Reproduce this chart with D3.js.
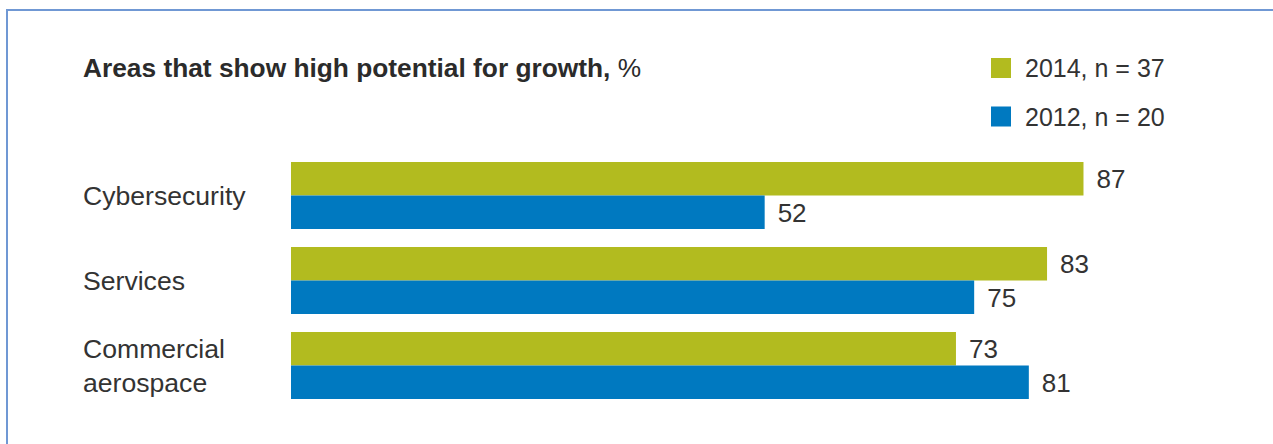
<!DOCTYPE html>
<html>
<head>
<meta charset="utf-8">
<script src="https://cdn.jsdelivr.net/npm/d3@7"></script>
<style>
  body { margin: 0; background: #fff; }
  svg { display: block; font-family: "Liberation Sans", Arial, Helvetica, sans-serif; }
</style>
</head>
<body>
<div id="vis"></div>
<script>
var width = 1273,
    height = 444;

// data
var categories = ["Cybersecurity", "Services", "Commercial aerospace"];
var series = ["2014", "2012"];
var seriesLabels = ["2014, n = 37", "2012, n = 20"];
var values2014 = [87, 83, 73];
var values2012 = [52, 75, 81];
var colors = ["#b2bb1f", "#0079c0"];

var rows = categories.map(function(c, i) {
  return {cat: c, vals: [values2014[i], values2012[i]]};
});

var svg = d3.select("#vis").append("svg")
    .attr("width", width)
    .attr("height", height);

// frame
svg.append("rect")
    .attr("x", 7)
    .attr("y", 10)
    .attr("width", width + 20)
    .attr("height", height + 20)
    .attr("fill", "none")
    .attr("stroke", "#7098d4")
    .attr("stroke-width", 2);

var x = d3.scaleLinear()
    .domain([0, 100])
    .range([291, 1201.9]);

var y = d3.scaleBand()
    .domain(categories)
    .range([162, 399])
    .paddingInner(18 / 85);

var ySub = d3.scaleBand()
    .domain(series)
    .range([0, y.bandwidth()]);

// title
var title = svg.append("text")
    .attr("x", 83)
    .attr("y", 77)
    .style("font-size", "26.3px")
    .style("fill", "#2b2b2b");
title.append("tspan").style("font-weight", "bold").text("Areas that show high potential for growth,");
title.append("tspan").text(" %");

// legend
var legend = svg.selectAll(".legend")
    .data(series)
    .enter().append("g")
    .attr("class", "legend")
    .attr("transform", function(d, i) { return "translate(991," + (58 + i * 48.5) + ")" });

legend.append("rect")
    .attr("width", 20)
    .attr("height", 20)
    .attr("fill", function(d, i) { return colors[i] });

legend.append("text")
    .attr("x", 34)
    .attr("y", 19)
    .style("font-size", "25px")
    .style("fill", "#333")
    .text(function(d, i) { return seriesLabels[i] });

// groups
var group = svg.selectAll(".group")
    .data(rows)
    .enter().append("g")
    .attr("class", "group")
    .attr("transform", function(d) { return "translate(0," + y(d.cat) + ")" });

group.selectAll("rect")
    .data(function(d) { return d.vals })
    .enter().append("rect")
    .attr("x", x(0))
    .attr("y", function(d, i) { return ySub(series[i]) })
    .attr("width", function(d) { return x(d) - x(0) })
    .attr("height", ySub.bandwidth())
    .attr("fill", function(d, i) { return colors[i] });

group.selectAll(".val")
    .data(function(d) { return d.vals })
    .enter().append("text")
    .attr("class", "val")
    .attr("x", function(d) { return x(d) + 13 })
    .attr("y", function(d, i) { return ySub(series[i]) + ySub.bandwidth() / 2 + 9.5 })
    .style("font-size", "26px")
    .style("fill", "#333")
    .text(function(d) { return d });

// category labels (wrap long one)
group.append("text")
    .style("font-size", "26.6px")
    .style("fill", "#333")
    .each(function(d) {
      var lines = d.cat == "Commercial aerospace" ? ["Commercial", "aerospace"] : [d.cat];
      var lh = 34;
      var first = y.bandwidth() / 2 + 9.5 - (lines.length - 1) * lh / 2;
      var t = d3.select(this);
      lines.forEach(function(l, k) {
        t.append("tspan")
          .attr("x", 83)
          .attr("y", first + k * lh)
          .text(l);
      });
    });
</script>
</body>
</html>
